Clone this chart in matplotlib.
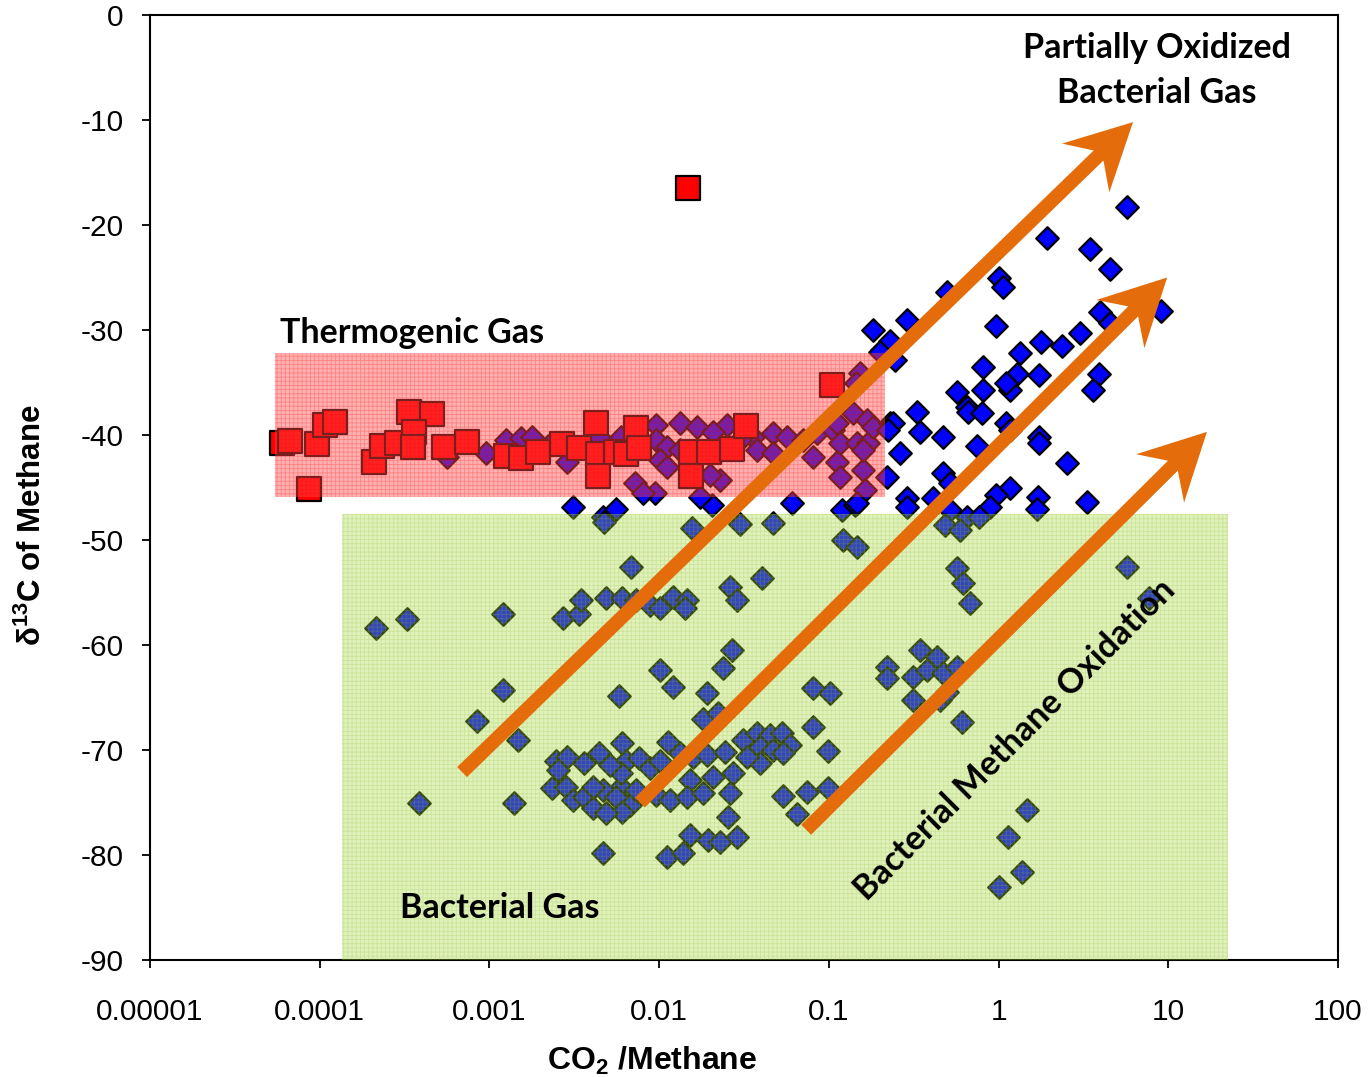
import numpy as np
import matplotlib
matplotlib.use("Agg")
import matplotlib.pyplot as plt
from matplotlib.patches import Rectangle, Polygon
from matplotlib.ticker import NullLocator
from matplotlib.transforms import IdentityTransform

# thermogenic samples (red squares)
red_x = [6.0e-5, 6.67e-5, 9.6e-5, 1.07e-4, 1.23e-4, 8.7e-5, 2.08e-4, 2.32e-4, 2.84e-4,
         3.35e-4, 4.57e-4, 3.58e-4, 3.53e-4, 5.39e-4, 7.35e-4, 1.26e-3, 1.54e-3, 1.94e-3,
         2.69e-3, 3.39e-3, 4.27e-3, 4.39e-3, 4.39e-3, 5.6e-3, 6.4e-3, 7.35e-3, 7.66e-3,
         0.0154, 0.0154, 0.0197, 0.0269, 0.0326, 0.105, 0.0148]
red_y = [-40.8, -40.6, -40.9, -39.0, -38.8, -45.1, -42.6, -41.0, -40.8,
         -37.8, -38.0, -39.7, -41.1, -41.1, -40.7, -42.0, -42.2, -41.6,
         -40.9, -41.2, -38.9, -41.8, -43.9, -41.6, -41.8, -39.3, -41.2,
         -41.6, -43.9, -41.6, -41.3, -39.1, -35.2, -16.5]

# bacterial / oxidized samples (blue diamonds)
blue_x = [
    # left, bacterial field
    2.14e-4, 3.26e-4, 3.83e-4, 8.4e-4, 1.21e-3, 1.21e-3, 1.40e-3, 1.48e-3,
    # around -55
    2.73e-3, 3.39e-3, 3.48e-3, 4.89e-3, 6.08e-3, 7.35e-3, 8.78e-3, 0.0101, 0.0121,
    0.0146, 0.0142, 6.87e-3, 0.0262, 0.0288, 0.0404, 5.77e-3, 4.64e-3,
    # -60 to -80, 0.01 - 0.1
    0.0101, 0.0121, 0.0269, 0.0238, 0.0192, 0.0182, 0.0223, 0.081, 0.101, 0.081,
    0.099, 0.0539, 0.0745, 0.099, 0.0652,
    # dense cluster near -70 to -80
    6.08e-3, 6.4e-3, 7.66e-3, 8.78e-3, 0.0101, 0.0113, 0.0133, 0.0159, 0.0192, 0.0245,
    0.0312, 0.0378, 0.0451, 0.053, 0.0592, 0.0394, 0.047, 0.0394, 0.033, 0.0539,
    6.0e-3, 7.16e-3, 9.6e-3, 0.0116, 0.0152, 0.0146, 0.0182, 0.0208, 0.0273, 0.0262,
    0.0255, 0.0152, 0.0194, 0.0288, 0.0229, 0.0111, 0.0138, 6.0e-3, 6.69e-3,
    2.48e-3, 2.88e-3, 2.35e-3, 2.84e-3, 3.63e-3, 4.45e-3, 5.1e-3, 3.09e-3, 3.63e-3,
    4.05e-3, 4.64e-3, 5.6e-3, 6.08e-3, 4.89e-3, 7.35e-3, 2.52e-3, 4.05e-3,
    # just below thermogenic band
    3.09e-3, 4.64e-3, 5.6e-3, 4.76e-3, 0.0156, 0.0205, 0.030, 0.047, 0.0608, 0.119,
    0.142, 0.121, 0.146,
    # inside thermogenic band
    7.16e-3, 9.39e-3, 7.98e-3, 0.0174, 0.0229, 0.0200, 9.6e-3, 0.0133, 0.0168, 0.0252,
    0.0208, 0.0358, 0.047, 0.0568, 0.0706, 0.0854, 0.106, 0.138, 0.168, 0.116,
    0.146, 0.170, 9.6e-3, 0.0111, 0.0133, 0.0101, 0.0111, 0.0378, 0.047, 0.081,
    0.111, 0.116, 0.159, 0.163, 0.030, 2.88e-3, 6.0e-3, 4.45e-3, 9.6e-4, 5.6e-4,
    1.26e-3, 1.54e-3, 1.79e-3, 2.2e-3, 3.53e-3, 0.152, 0.205, 0.182, 0.229, 0.111,
    0.159, 0.144,
    # partially oxidized, upper right
    0.182, 0.288, 0.229, 0.20, 0.245, 0.496, 1.01, 1.06, 1.92, 3.44,
    4.51, 5.68, 0.97, 3.94, 4.51, 3.0, 9.1, 1.79, 2.35, 1.33,
    0.81, 1.28, 1.74, 3.88, 3.58, 0.568, 0.81, 1.16, 1.11, 0.652,
    0.66, 0.798, 0.33, 0.344, 0.47, 0.238, 0.223, 0.262, 0.22, 0.146,
    0.47, 0.745, 1.11, 1.16, 1.74, 1.74, 2.52, 3.3, 1.70, 1.68,
    1.16, 0.97, 0.89, 0.288, 0.288, 0.41, 0.515, 0.652, 0.77, 0.482,
    0.59, 0.515,
    # right part of bacterial field
    0.568, 0.617, 0.68, 0.344, 0.433, 0.22, 0.22, 0.312, 0.378, 0.47,
    0.568, 0.312, 0.451, 0.496, 0.608, 1.48, 1.13, 1.37, 1.0, 5.68, 7.7,
]
blue_y = [
    -58.4, -57.5, -75.0, -67.2, -57.0, -64.3, -75.0, -69.0,
    -57.4, -57.0, -55.7, -55.5, -55.5, -55.7, -56.2, -56.5, -55.4,
    -55.7, -56.5, -52.6, -54.5, -55.7, -53.6, -64.9, -79.8,
    -62.4, -64.0, -60.5, -62.2, -64.6, -67.0, -66.5, -64.1, -64.6, -67.8,
    -70.1, -74.4, -74.0, -73.6, -76.1,
    -69.3, -71.0, -70.8, -71.7, -71.0, -69.2, -70.3, -70.7, -70.5, -70.2,
    -69.0, -68.4, -68.6, -68.4, -69.5, -69.7, -70.0, -71.2, -70.7, -70.3,
    -73.5, -74.1, -74.3, -74.8, -72.9, -74.5, -74.1, -72.6, -72.2, -74.1,
    -76.4, -78.1, -78.6, -78.3, -78.8, -80.2, -79.8, -72.2, -75.2,
    -71.0, -70.7, -73.6, -73.5, -71.2, -70.3, -71.4, -74.8, -74.5,
    -75.5, -73.8, -74.5, -75.9, -76.0, -73.8, -71.9, -73.5,
    -46.9, -47.8, -47.0, -48.3, -48.9, -46.7, -48.5, -48.4, -46.5, -47.1,
    -46.7, -50.0, -50.7,
    -44.6, -45.5, -45.5, -45.9, -44.3, -43.8, -39.0, -38.9, -39.2, -39.0,
    -39.7, -40.2, -39.8, -40.2, -40.5, -39.8, -39.5, -37.9, -38.6, -40.8,
    -40.8, -40.8, -40.5, -41.1, -41.4, -42.4, -43.0, -41.4, -41.7, -42.1,
    -42.6, -44.0, -43.3, -45.2, -40.5, -42.6, -40.2, -40.2, -41.7, -42.1,
    -40.5, -40.3, -40.2, -41.0, -41.1, -34.1, -31.9, -39.2, -38.9, -38.9,
    -41.4, -35.0,
    -30.0, -29.0, -31.0, -32.1, -32.9, -26.4, -25.0, -25.9, -21.2, -22.3,
    -24.2, -18.3, -29.6, -28.3, -29.3, -30.3, -28.2, -31.1, -31.5, -32.2,
    -33.5, -34.2, -34.3, -34.2, -35.7, -35.9, -35.7, -35.7, -35.0, -37.3,
    -37.8, -37.9, -37.8, -39.7, -40.2, -38.9, -39.5, -41.7, -44.0, -46.5,
    -43.6, -41.0, -38.9, -39.5, -40.2, -40.8, -42.7, -46.4, -45.9, -47.0,
    -45.0, -45.7, -46.9, -46.0, -46.9, -46.0, -47.1, -47.8, -47.8, -48.6,
    -49.0, -44.6,
    -52.7, -54.1, -56.0, -60.5, -61.1, -62.1, -63.1, -63.0, -62.4, -62.7,
    -62.1, -65.2, -65.2, -64.5, -67.3, -75.7, -78.3, -81.6, -83.0, -52.6, -55.5,
]

x_ticks = [1e-5, 1e-4, 1e-3, 1e-2, 1e-1, 1, 10, 100]
x_tick_labels = ["0.00001", "0.0001", "0.001", "0.01", "0.1", "1", "10", "100"]
y_ticks = [0, -10, -20, -30, -40, -50, -60, -70, -80, -90]
y_tick_labels = ["0", "-10", "-20", "-30", "-40", "-50", "-60", "-70", "-80", "-90"]

# shaded fields: (x0, x1, y0, y1)
thermo_box = (5.45e-5, 0.214, -45.9, -32.2)
bact_box = (1.35e-4, 22.5, -90.0, -47.5)
# oxidation arrows: (start, tip)
arrows = [((6.9e-4, -72.1), (6.2, -10.2)),
          ((7.7e-3, -75.0), (9.85, -25.0)),
          ((0.0735, -77.6), (16.9, -39.7))]

plt.rcParams['mathtext.fontset'] = 'custom'
plt.rcParams['mathtext.rm'] = 'Liberation Sans:bold'
plt.rcParams['mathtext.bf'] = 'Liberation Sans:bold'
plt.rcParams['mathtext.default'] = 'bf'
plt.rcParams['hatch.linewidth'] = 0.6

fig = plt.figure(figsize=(13.68, 10.77), dpi=100)
ax = fig.add_axes([150 / 1368, 117 / 1077, 1188 / 1368, 945 / 1077])
ax.set_xscale('log')
ax.set_xlim(1e-5, 100)
ax.set_ylim(-90, 0)

ax.scatter(blue_x, blue_y, marker='D', s=11.5 ** 2, c='#0000FF',
           edgecolors='black', linewidths=1.6, zorder=2)
ax.scatter(red_x, red_y, marker='s', s=17 ** 2, c='#FF0000',
           edgecolors='black', linewidths=1.6, zorder=3)

for box, fc, hc in [(thermo_box, (1.0, 0.3, 0.3, 0.44), (1.0, 0.0, 0.0, 0.25)),
                    (bact_box, (0.64, 0.84, 0.2, 0.33), (0.55, 0.75, 0.2, 0.25))]:
    x0, x1, y0, y1 = box
    ax.add_patch(Rectangle((x0, y0), x1 - x0, y1 - y0, facecolor=fc,
                           edgecolor='none', zorder=4))
    ax.add_patch(Rectangle((x0, y0), x1 - x0, y1 - y0, facecolor='none',
                           edgecolor=hc, linewidth=0, hatch='++++', zorder=4))


def notched_arrow(ax, start, tip, shaft=7.0, head_len=66.0, head_half=34.0, notch=48.0):
    # block arrow with swept-back barbs, built in pixel space from data end points
    s = ax.transData.transform(start)
    t = ax.transData.transform(tip)
    u = (t - s) / np.hypot(*(t - s))
    n = np.array([-u[1], u[0]])
    pts = [t,
           t - head_len * u + head_half * n,
           t - notch * u + shaft * n,
           s + shaft * n,
           s - shaft * n,
           t - notch * u - shaft * n,
           t - head_len * u - head_half * n]
    ax.add_patch(Polygon(pts, closed=True, transform=IdentityTransform(),
                         facecolor='#E46C0A', edgecolor='none', zorder=5))


for start, tip in arrows:
    notched_arrow(ax, start, tip)

label_font = dict(family='Lato', fontweight='bold', fontsize=24.5, color='black', zorder=6)
ax.text(5.8e-5, -30.3, "Thermogenic Gas", ha='left', va='center', **label_font)
ax.text(2.96e-4, -85.0, "Bacterial Gas", ha='left', va='center', **label_font)
ax.text(8.6, -5.3, "Partially Oxidized\nBacterial Gas", ha='center', va='center',
        multialignment='center', linespacing=1.5, **label_font)
ax.text(1.24, -69.0, "Bacterial Methane Oxidation", ha='center', va='center',
        rotation=45, rotation_mode='anchor', **label_font)

ax.set_xticks(x_ticks)
ax.set_xticklabels(x_tick_labels)
ax.xaxis.set_minor_locator(NullLocator())
ax.set_yticks(y_ticks)
ax.set_yticklabels(y_tick_labels)
ax.tick_params(axis='both', direction='out', length=6, width=1.3, labelsize=21.5)
ax.tick_params(axis='x', pad=21)
ax.tick_params(axis='y', pad=13)
for lab in ax.get_xticklabels() + ax.get_yticklabels():
    lab.set_family('Liberation Sans')
for sp in ax.spines.values():
    sp.set_linewidth(1.5)
    sp.set_color('black')

ax.set_xlabel("CO$_2$ /Methane", fontsize=23, fontweight='bold', family='Liberation Sans')
ax.set_ylabel("\u03b4$^{13}$C of Methane", fontsize=22.5, fontweight='bold',
              family='Liberation Sans')
ax.xaxis.set_label_coords(0.423, -0.09)
ax.yaxis.set_label_coords(-0.086, 0.46)

fig.savefig("out.png", dpi=100)
